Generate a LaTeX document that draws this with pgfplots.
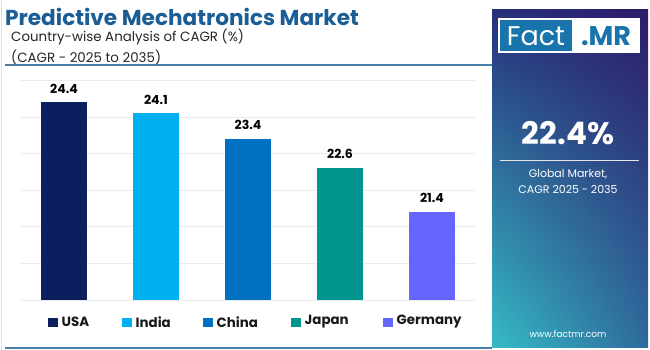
\documentclass[border=0pt]{standalone}
\usepackage{fontspec}
\setmainfont{Poppins}
\usepackage{pgfplots}
\pgfplotsset{compat=1.18}
\usetikzlibrary{shadings}
\definecolor{cusa}{HTML}{0B1F5E}
\definecolor{cindia}{HTML}{00B0F0}
\definecolor{cchina}{HTML}{0070C0}
\definecolor{cjapan}{HTML}{00968F}
\definecolor{cgermany}{HTML}{6666FF}
\definecolor{titleblue}{HTML}{1B5E95}
\definecolor{logoblue}{HTML}{1874AB}
\definecolor{pTL}{HTML}{27307A}
\definecolor{pTR}{HTML}{2D1B69}
\definecolor{pBL}{HTML}{36BCC6}
\definecolor{pBR}{HTML}{2E6A9C}
\begin{document}
\begin{tikzpicture}[x=1pt,y=-1pt]
\path[use as bounding box, fill=white] (0,0) rectangle (650,350);
\draw[gray!25, line width=1pt] (1.5,0) -- (1.5,350);
% title
\node[anchor=west, inner sep=0, text=titleblue, font=\fontsize{21.6}{24}\selectfont\bfseries] at (5,17) {Predictive Mechatronics Market};
\node[anchor=west, inner sep=0, text=black!85, font=\fontsize{13.4}{15}\selectfont] at (11,37) {Country-wise Analysis of CAGR (\%)};
\node[anchor=west, inner sep=0, text=black!85, font=\fontsize{13.4}{15}\selectfont] at (11,57) {(CAGR - 2025 to 2035)};
\draw[titleblue!80, line width=1.2pt] (5,65) -- (492,65);
\draw[titleblue!80, line width=1.5pt] (5,348) -- (492,348);
% panel
\shade[upper left=pTL, upper right=pTR, lower left=pBL, lower right=pBR] (492,10) rectangle (648,347);
\fill[white] (498,18) rectangle (640,53);
\fill[logoblue] (500,20) rectangle (572,51);
\node[anchor=center, inner sep=0, text=white, font=\fontsize{27}{28}\selectfont] at (536,36) {Fact};
\node[anchor=center, inner sep=0, text=logoblue, font=\fontsize{27}{28}\selectfont\bfseries] at (606,36) {.MR};
\node[anchor=center, inner sep=0, text=white, font=\fontsize{31}{32}\selectfont\bfseries] at (568,133) {22.4\%};
\draw[white!80!gray, line width=1pt] (500,160) -- (639,160);
\node[anchor=center, inner sep=0, text=white, font=\fontsize{11}{13}\selectfont] at (568,174) {Global Market,};
\node[anchor=center, inner sep=0, text=white, font=\fontsize{11}{13}\selectfont] at (568,189) {CAGR 2025 - 2035};
\node[anchor=center, inner sep=0, text=white, font=\fontsize{9}{11}\selectfont] at (568,334) {www.factmr.com};
% axis
\begin{axis}[
  at={(20pt,-300pt)}, anchor=south west,
  scale only axis, width=456pt, height=219.6pt,
  xmin=-0.478, xmax=4.478, ymin=19, ymax=25,
  axis line style={draw=none},
  major tick style={draw=none},
  yticklabels={}, xtick=\empty,
  ytick={19,20,...,25}, ymajorgrids,
  grid style={gray!15, line width=0.8pt},
  ybar, bar width=46pt, bar shift=0pt,
  /pgf/number format/assume math mode=true,
  /pgf/number format/.cd, fixed, fixed zerofill, precision=1, /pgfplots/.cd,
  nodes near coords,
  every node near coord/.append style={font=\fontsize{12.5}{14}\selectfont\bfseries, text=black, anchor=south, inner sep=0pt, yshift=9pt},
  clip=false,
]
\addplot[fill=cusa, draw=none] coordinates {(0,24.4)};
\addplot[fill=cindia, draw=none] coordinates {(1,24.1)};
\addplot[fill=cchina, draw=none] coordinates {(2,23.4)};
\addplot[fill=cjapan, draw=none] coordinates {(3,22.6)};
\addplot[fill=cgermany, draw=none] coordinates {(4,21.4)};
\end{axis}
% legend
\foreach \x/\c/\t in {48/cusa/USA, 122/cindia/India, 203/cchina/China, 291/cjapan/Japan, 383/cgermany/Germany}{
  \fill[\c] (\x,317.5) rectangle ++(9.5,9.5);
  \node[anchor=west, inner sep=0, font=\fontsize{13.4}{15}\selectfont\bfseries, text=black!90] at (\x+13.5,322) {\t};
}
\end{tikzpicture}
\end{document}
